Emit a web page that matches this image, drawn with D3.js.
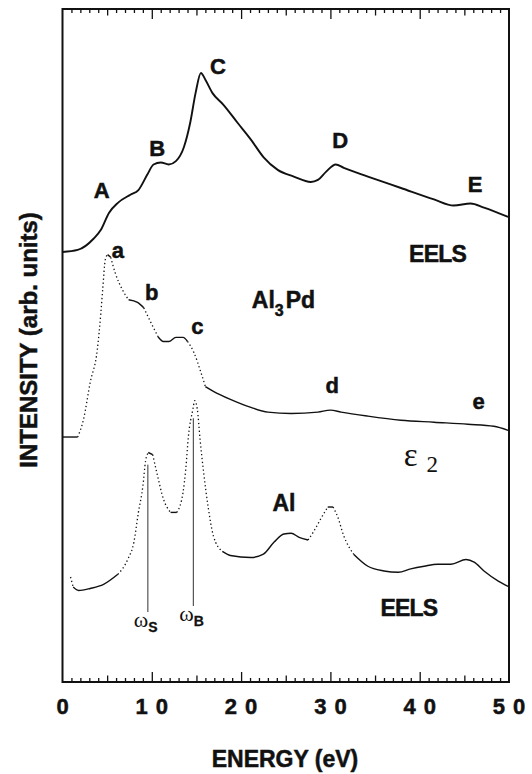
<!DOCTYPE html>
<html>
<head>
<meta charset="utf-8">
<script src="https://cdn.jsdelivr.net/npm/d3@7"></script>
<style>
    html, body { margin: 0; padding: 0; background: #fff; }
    svg { display: block; }
    .lbl { font-family: "Liberation Sans", Arial, sans-serif; font-weight: bold; fill: #111; stroke: #111; stroke-width: 0.5px; }
    .ser { font-family: "Liberation Serif", "Times New Roman", serif; fill: #111; }
</style>
</head>
<body>
<div id="chart"></div>
<script>
    // energy axis (eV) and intensity (arb. units, curves stacked with offsets)
    var xTicks = [0, 10, 20, 30, 40, 50];

    // EELS of Al3Pd (top curve)
    var eelsPdE = [0, 1.7, 3.5, 4.3, 5.2, 6.2, 7.6, 8.5, 9.5, 10.2, 11.0, 11.9, 12.7, 13.6, 14.3, 14.9, 15.5, 16.0, 16.8, 18.0,
        19.6, 21.1, 22.5, 24.1, 25.9, 27.8, 28.6, 29.5, 30.6, 31.5, 34.2, 37.9, 41.6, 43.8, 45.7, 47.2, 49.9];
    var eelsPdI = [63.9, 64.2, 65.9, 67.2, 69.7, 71.2, 72.4, 73.1, 75.4, 76.9, 77.2, 76.9, 77.4, 79.5, 83.1, 87.5, 90.5, 89.5, 87.5, 85.8,
        83.1, 80.6, 78.0, 76.1, 75.1, 74.3, 74.6, 75.8, 76.9, 76.4, 75.1, 73.4, 71.7, 70.8, 71.1, 70.5, 69.1];

    // epsilon2 of Al3Pd (middle curve)
    var eps2E = [0, 1.7, 2.35, 3.1, 3.9, 4.3, 4.5, 4.8, 5.05, 5.4, 5.9, 6.7, 7.4, 8.4, 9.1, 9.9, 10.7, 11.3, 11.9, 12.7,
        13.5, 14.0, 14.7, 15.5, 16.0, 16.9, 18.8, 21.1, 23.0, 25.6, 28.6, 30.0, 31.2, 34.2, 37.9, 41.6, 45.4, 48.3, 49.9];
    var eps2I = [36.4, 36.4, 39.0, 44.5, 49.4, 54.9, 58.3, 62.8, 63.5, 63.1, 60.8, 58.3, 56.8, 56.4, 55.6, 53.4, 51.3, 50.6, 50.6, 51.2,
        51.2, 50.6, 49.0, 46.0, 43.9, 43.2, 42.0, 40.8, 40.1, 39.9, 40.1, 40.4, 40.1, 39.5, 38.9, 38.6, 38.3, 38.0, 37.4];

    // EELS of Al (bottom curve)
    var eelsAlE = [0.9, 1.2, 1.8, 3.1, 4.6, 6.2, 7.3, 8.0, 8.5, 9.0, 9.3, 9.6, 10.1, 10.65, 11.3, 12.1, 12.8, 13.5, 13.8, 14.1,
        14.6, 14.8, 15.1, 15.4, 15.8, 16.3, 16.9, 17.9, 18.8, 21.1, 22.5, 23.7, 24.8, 25.6, 26.5, 27.5, 28.1, 28.9, 29.7, 30.3,
        30.8, 31.5, 32.6, 34.2, 36.0, 37.6, 39.0, 40.5, 42.0, 43.5, 45.2, 46.1, 47.2, 48.8, 49.9];
    var eelsAlI = [15.6, 14.1, 13.6, 13.9, 14.5, 16.0, 18.2, 20.8, 25.2, 29.1, 32.8, 34.1, 33.8, 30.6, 27.2, 25.2, 25.2, 28.2, 31.6, 36.5,
        40.5, 41.8, 40.5, 36.1, 31.2, 26.1, 21.7, 19.4, 18.8, 18.5, 19.0, 20.8, 22.0, 22.1, 21.5, 21.1, 22.3, 24.2, 26.0, 26.0,
        24.6, 21.7, 19.0, 17.2, 16.5, 16.3, 16.8, 17.2, 17.5, 17.5, 18.2, 17.8, 16.5, 15.0, 14.2];

    // surface and bulk plasmon of Al
    var plasmonE = [9.56, 14.65];
    var plasmonSub = ["S", "B"];

    var W = 532, H = 774;
    var x = d3.scaleLinear().domain([0, 50]).range([62.5, 509]);
    var y = d3.scaleLinear().domain([0, 100]).range([682, 9]);

    var svg = d3.select("#chart").append("svg").attr("width", W).attr("height", H);

    // frame
    svg.append("rect")
        .attr("x", x(0)).attr("y", y(100))
        .attr("width", x(50) - x(0)).attr("height", y(0) - y(100))
        .attr("fill", "none").attr("stroke", "#111").attr("stroke-width", 2);

    // ticks: minor every 1, medium every 5, major every 10 (inward, top and bottom)
    function tickLayer(vals, size) {
        var b = d3.axisBottom(x).tickValues(vals).tickSize(-size).tickFormat("");
        var t = d3.axisTop(x).tickValues(vals).tickSize(-size).tickFormat("");
        [[b, y(0)], [t, y(100)]].forEach(function (p) {
            var g = svg.append("g").attr("transform", "translate(0," + p[1] + ")").call(p[0]);
            g.select(".domain").remove();
            g.selectAll("line").attr("stroke", "#111").attr("stroke-width", 1.3);
        });
    }
    tickLayer(d3.range(1, 50).filter(function (v) { return v % 5; }), 4);
    tickLayer([5, 15, 25, 35, 45], 6.5);
    tickLayer([10, 20, 30, 40], 10);

    // tick labels, digits spread apart as in the original
    var tl = svg.selectAll("text.tl").data(xTicks).enter().append("text")
        .attr("class", "lbl tl")
        .attr("x", function (d) { return x(d); })
        .attr("y", 714)
        .attr("text-anchor", "middle")
        .style("font-size", "22px");
    tl.selectAll("tspan").data(function (d) { return String(d).split(""); })
        .enter().append("tspan")
        .attr("dx", function (c, i) { return i ? 8 : 0; })
        .text(function (c) { return c; });

    // axis titles
    svg.append("text").attr("class", "lbl")
        .attr("x", 285).attr("y", 767)
        .attr("text-anchor", "middle").style("font-size", "23px")
        .text("ENERGY (eV)");
    svg.append("text").attr("class", "lbl")
        .attr("transform", "translate(37,340) rotate(-90)")
        .attr("text-anchor", "middle").style("font-size", "24px")
        .text("INTENSITY (arb. units)");

    // curves: steep parts come out as dots, like the sampled original
    function drawCurve(es, is, width, dotted) {
        var pts = es.map(function (e, i) { return [x(e), y(is[i])]; });
        var runs = [], cur = null;
        for (var i = 1; i < pts.length; i++) {
            var s = Math.abs((pts[i][1] - pts[i - 1][1]) / (pts[i][0] - pts[i - 1][0]));
            var dot = dotted && s > 1.3;
            if (!cur || cur.dot !== dot) {
                cur = {dot: dot, pts: [pts[i - 1]]};
                runs.push(cur);
            }
            cur.pts.push(pts[i]);
        }
        var line = d3.line().curve(d3.curveMonotoneX);
        runs.forEach(function (r) {
            svg.append("path")
                .attr("d", line(r.pts))
                .attr("fill", "none")
                .attr("stroke", "#111")
                .attr("stroke-width", r.dot ? 1.3 : width)
                .attr("stroke-dasharray", r.dot ? "1.3 2.6" : null)
                .attr("stroke-linejoin", "round");
        });
    }
    drawCurve(eelsPdE, eelsPdI, 1.9, false);
    drawCurve(eps2E, eps2I, 1.4, true);
    drawCurve(eelsAlE, eelsAlI, 1.4, true);

    // plasmon markers
    var alInterp = function (e) {
        var i = d3.bisectLeft(eelsAlE, e);
        var t = (e - eelsAlE[i - 1]) / (eelsAlE[i] - eelsAlE[i - 1]);
        return eelsAlI[i - 1] + t * (eelsAlI[i] - eelsAlI[i - 1]);
    };
    var lineBottom = [612, 606];
    plasmonE.forEach(function (e, i) {
        svg.append("line")
            .attr("x1", x(e)).attr("x2", x(e))
            .attr("y1", y(alInterp(e)) + 11).attr("y2", lineBottom[i])
            .attr("stroke", "#333").attr("stroke-width", 1);
        var t = svg.append("text").attr("x", x(e) - 14).attr("y", lineBottom[i] + 15);
        t.append("tspan").attr("class", "ser").style("font-size", "22px").text("ω");
        t.append("tspan").attr("class", "lbl").style("font-size", "14px").style("stroke-width", "0.3px")
            .attr("dy", 5).text(plasmonSub[i]);
    });

    // peak labels
    var labels = [
        ["A", 4.4, 73.1], ["B", 10.6, 79.3], ["C", 17.4, 91.5], ["D", 31.1, 80.5], ["E", 46.2, 74.0],
        ["a", 6.2, 64.2], ["b", 10.0, 57.9], ["c", 15.1, 52.9], ["d", 30.2, 44.1], ["e", 46.6, 41.8],
        ["EELS", 42.0, 63.7], ["EELS", 38.8, 11.1], ["Al", 24.8, 26.6]
    ];
    svg.selectAll("text.pk").data(labels).enter().append("text")
        .attr("class", "lbl pk")
        .attr("x", function (d) { return x(d[1]); })
        .attr("y", function (d) { return y(d[2]); })
        .attr("dy", "0.36em")
        .attr("text-anchor", "middle")
        .style("font-size", function (d) { return d[0].length > 1 ? "23px" : "22px"; })
        .style("letter-spacing", function (d) { return d[0] === "EELS" ? "-0.8px" : null; })
        .text(function (d) { return d[0]; });

    // Al3Pd
    var al3pd = svg.append("text").attr("class", "lbl")
        .attr("x", x(21.2)).attr("y", y(56.8)).attr("dy", "0.36em")
        .style("font-size", "23px");
    al3pd.append("tspan").text("Al");
    al3pd.append("tspan").attr("dy", 8).style("font-size", "16px").text("3");
    al3pd.append("tspan").attr("dy", -8).attr("dx", 2).text("Pd");

    // epsilon 2
    var eps = svg.append("text").attr("class", "ser")
        .attr("x", x(38.2)).attr("y", y(33.4) + 9);
    eps.append("tspan").style("font-size", "33px").text("ε");
    eps.append("tspan").attr("dx", 9).attr("dy", 6).style("font-size", "23px").text("2");
</script>
</body>
</html>
